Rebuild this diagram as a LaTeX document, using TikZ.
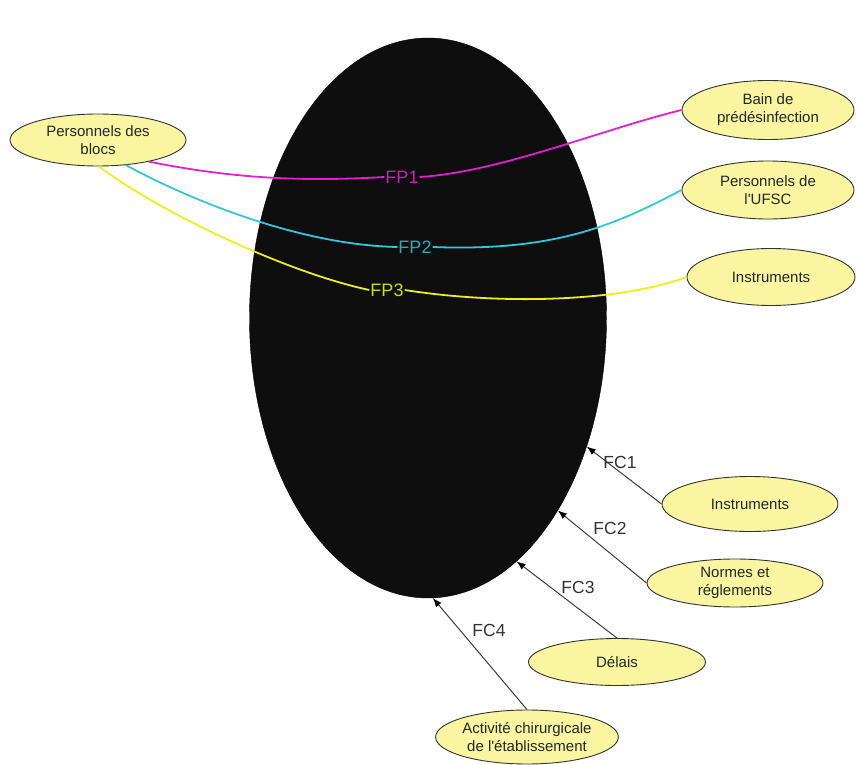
\documentclass[tikz,border=0pt]{standalone}
\usepackage{fontspec}
\setmainfont{Liberation Sans}
\usetikzlibrary{shapes.geometric,arrows.meta}
\definecolor{pale}{RGB}{250,245,160}
\definecolor{blob}{RGB}{14,14,14}
\definecolor{mag}{RGB}{228,30,210}
\definecolor{cya}{RGB}{50,200,220}
\definecolor{yel}{RGB}{238,238,30}
\definecolor{arr}{RGB}{60,60,60}
\tikzset{
  bubble/.style={ellipse,draw=black!80,line width=0.9pt,fill=pale,inner sep=0pt,
    align=center,font=\fontsize{15}{18}\selectfont,text=black!85},
  fplabel/.style={inner sep=1pt,font=\fontsize{18}{20}\selectfont},
  fclabel/.style={inner sep=1pt,font=\fontsize{17.5}{20}\selectfont,text=black!80},
  fpline/.style={line width=1.8pt},
  fcarrow/.style={draw=arr,line width=1pt,-{Latex[length=9pt,width=7pt,color=black]}}
}
\begin{document}
\begin{tikzpicture}[x=1pt,y=-1pt]
\useasboundingbox (0,0) rectangle (857,765);
% main ellipse
\node[ellipse,fill=blob,draw=black,minimum width=357,minimum height=560,inner sep=0pt] (E) at (428,318) {};
% bubbles
\node[bubble,minimum width=176,minimum height=52] (blocs) at (98,140) {Personnels des\\blocs};
\node[bubble,minimum width=172,minimum height=59] (bain) at (768,110) {Bain de\\prédésinfection};
\node[bubble,minimum width=172,minimum height=58] (ufsc) at (768,190) {Personnels de\\l\textquotesingle UFSC};
\node[bubble,minimum width=168,minimum height=57] (instrA) at (771,277) {Instruments};
\node[bubble,minimum width=176,minimum height=55] (instrB) at (750,504) {Instruments};
\node[bubble,minimum width=176,minimum height=48] (normes) at (735,583) {Normes et\\réglements};
\node[bubble,minimum width=177,minimum height=47] (delais) at (617,662) {Délais};
\node[bubble,minimum width=178,minimum height=54] (activ) at (527,737) {Activité chirurgicale\\de l\textquotesingle établissement};
% FP labels
\node[fplabel,text=mag!90!black] (fp1) at (402,177) {FP1};
\node[fplabel,text=cya!85!black] (fp2) at (415,247) {FP2};
\node[fplabel,text=yel!90!black] (fp3) at (387,290) {FP3};
% FP curves
\draw[fpline,mag] (blocs.-23) .. controls (230,178) and (300,182) .. (fp1.west);
\draw[fpline,mag] (fp1.east) .. controls (500,172) and (600,130) .. (bain.west);
\draw[fpline,cya] (blocs.-42) .. controls (190,200) and (300,245) .. (fp2.west);
\draw[fpline,cya] (fp2.east) .. controls (560,252) and (620,222) .. (ufsc.west);
\draw[fpline,yel] (blocs.-88) .. controls (160,212) and (285,272) .. (fp3.west);
\draw[fpline,yel] (fp3.east) .. controls (500,305) and (620,302) .. (instrA.west);
% FC arrows
\draw[fcarrow] (instrB.west) -- (E.-39);
\draw[fcarrow] (normes.west) -- (E.-56.9);
\draw[fcarrow] (delais.north) -- (E.-70.9);
\draw[fcarrow] (activ.north) -- (E.-89.6);
\node[fclabel] (fc1) at (620,462) {FC1};
\node[fclabel] (fc2) at (610,528) {FC2};
\node[fclabel] (fc3) at (578,587) {FC3};
\node[fclabel] (fc4) at (489,630) {FC4};
\end{tikzpicture}
\end{document}
